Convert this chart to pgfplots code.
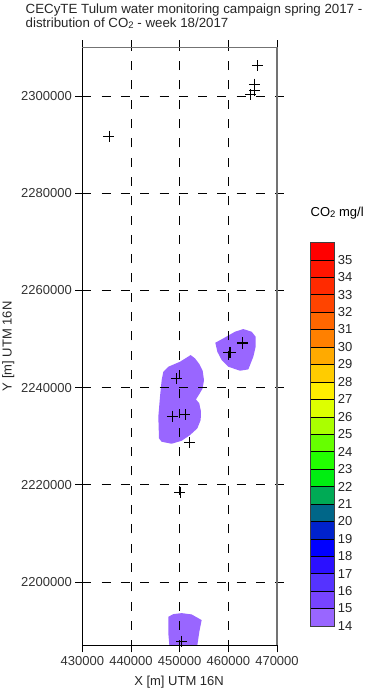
\documentclass[border=0pt]{standalone}
\usepackage{pgfplots}
\pgfplotsset{compat=1.18}
\usepackage{fontspec}
\setmainfont{Liberation Sans}
\newcommand{\subtwo}{\raisebox{-1pt}{\fontsize{9.5}{9.5}\selectfont 2}}
\definecolor{blobc}{HTML}{9966FF}
\begin{document}
\begin{tikzpicture}[x=1pt,y=1pt]
\path[use as bounding box] (0,0) rectangle (369,691);
\begin{axis}[
  at={(82.3pt,45.7pt)}, anchor=south west,
  scale only axis, width=194.7pt, height=597.9pt,
  xmin=430000, xmax=470000, ymin=2187000, ymax=2310000,
  xtick={430000,440000,...,470000}, ytick={2200000,2220000,...,2300000},
  scaled ticks=false,
  tick label style={font=\fontsize{13}{13}\selectfont, text=black!80},
  /pgf/number format/assume math mode=true,
  /pgf/number format/fixed, /pgf/number format/1000 sep={}, /pgf/number format/precision=0,
  tick align=outside, xtick pos=both, ytick pos=both,
  xticklabel pos=lower, yticklabel pos=left,
  major tick length=7pt,
  tick style={black, line width=0.8pt},
  grid=major,
  x grid style={black, line width=0.8pt, dash pattern=on 9pt off 10.3pt, dash phase=3.9pt},
  y grid style={black, line width=0.8pt, dash pattern=on 9pt off 10.3pt},
  axis on top,
  axis line style={line width=0.8pt},
  separate axis lines,
  xticklabel style={yshift=-1pt},
  xlabel={X [m] UTM 16N}, ylabel={Y [m] UTM 16N},
  label style={font=\fontsize{13}{13}\selectfont, text=black!85},
  xlabel style={at={(axis description cs:0.497,0)}, anchor=center, yshift=-36.5pt},
  ylabel style={at={(axis description cs:-0.38,0.5)}, anchor=center},
  clip mode=individual,
]
\addplot[fill=blobc, draw=none] coordinates {
(452263,2246708)(453153,2246023)(454043,2244856)(454729,2243484)(455002,2241564)
(454729,2239850)(454043,2238684)(453358,2237587)(454043,2236764)(454386,2235048)
(454318,2233334)(453632,2231620)(452126,2230247)(450415,2229081)(448360,2228463)
(446306,2228875)(445757,2229562)(445620,2234019)(445963,2238134)(446306,2241564)
(446647,2243278)(447674,2244307)(450071,2245336)} -- cycle;
\addplot[fill=blobc, draw=none] coordinates {
(463082,2252058)(464795,2251509)(465617,2250480)(465617,2248422)(465136,2246365)
(464109,2243760)(462398,2243484)(460000,2244307)(458632,2245679)(457741,2247394)
(457330,2249245)(458973,2250139)(461371,2251509)} -- cycle;
\addplot[fill=blobc, draw=none] coordinates {
(447674,2192867)(448701,2193416)(450415,2193622)(452469,2193349)(454523,2192182)
(454043,2189780)(453632,2187000)(447879,2187000)(447674,2189439)} -- cycle;
\addplot[only marks, mark=+, mark size=5.5pt, mark options={black, line width=0.8pt}] coordinates {
(465951,2306235)(465336,2302469)(465336,2301235)(464596,2300267)(435485,2291770)
(449311,2241832)(448490,2234157)(451099,2234425)(451982,2228663)
(460138,2247181)(460446,2247264)(462870,2249239)(462870,2249139)
(450071,2218519)(450421,2187799)};
\end{axis}
\begin{axis}[
  at={(310pt,65pt)}, anchor=south west,
  scale only axis, width=24.3pt, height=383.7pt,
  xmin=0, xmax=1, ymin=14, ymax=36,
  xtick=\empty, ytick={14,15,...,35},
  ytick pos=right, yticklabel pos=right,
  major tick length=0pt,
  tick label style={font=\fontsize{13}{13}\selectfont, text=black!85},
  yticklabel style={xshift=0pt},
  /pgf/number format/assume math mode=true,
  axis line style={line width=0.8pt, draw=black!75},
  axis on top,
  title style={at={(axis description cs:1.12,1)}, anchor=center, yshift=23.5pt},
  title={\fontsize{13}{13}\selectfont CO\subtwo{} mg/l},
]
\addplot[fill=blobc, draw=black] coordinates {(0,14)(1,14)(1,15)(0,15)} -- cycle;
\addplot[fill={rgb,255:red,119;green,68;blue,255}, draw=black] coordinates {(0,15)(1,15)(1,16)(0,16)} -- cycle;
\addplot[fill={rgb,255:red,85;green,51;blue,255}, draw=black] coordinates {(0,16)(1,16)(1,17)(0,17)} -- cycle;
\addplot[fill={rgb,255:red,43;green,16;blue,255}, draw=black] coordinates {(0,17)(1,17)(1,18)(0,18)} -- cycle;
\addplot[fill={rgb,255:red,0;green,0;blue,255}, draw=black] coordinates {(0,18)(1,18)(1,19)(0,19)} -- cycle;
\addplot[fill={rgb,255:red,0;green,34;blue,204}, draw=black] coordinates {(0,19)(1,19)(1,20)(0,20)} -- cycle;
\addplot[fill={rgb,255:red,0;green,102;blue,136}, draw=black] coordinates {(0,20)(1,20)(1,21)(0,21)} -- cycle;
\addplot[fill={rgb,255:red,0;green,170;blue,85}, draw=black] coordinates {(0,21)(1,21)(1,22)(0,22)} -- cycle;
\addplot[fill={rgb,255:red,0;green,238;blue,17}, draw=black] coordinates {(0,22)(1,22)(1,23)(0,23)} -- cycle;
\addplot[fill={rgb,255:red,34;green,255;blue,0}, draw=black] coordinates {(0,23)(1,23)(1,24)(0,24)} -- cycle;
\addplot[fill={rgb,255:red,102;green,255;blue,0}, draw=black] coordinates {(0,24)(1,24)(1,25)(0,25)} -- cycle;
\addplot[fill={rgb,255:red,170;green,255;blue,0}, draw=black] coordinates {(0,25)(1,25)(1,26)(0,26)} -- cycle;
\addplot[fill={rgb,255:red,221;green,255;blue,0}, draw=black] coordinates {(0,26)(1,26)(1,27)(0,27)} -- cycle;
\addplot[fill={rgb,255:red,255;green,238;blue,0}, draw=black] coordinates {(0,27)(1,27)(1,28)(0,28)} -- cycle;
\addplot[fill={rgb,255:red,255;green,204;blue,0}, draw=black] coordinates {(0,28)(1,28)(1,29)(0,29)} -- cycle;
\addplot[fill={rgb,255:red,255;green,170;blue,0}, draw=black] coordinates {(0,29)(1,29)(1,30)(0,30)} -- cycle;
\addplot[fill={rgb,255:red,255;green,128;blue,0}, draw=black] coordinates {(0,30)(1,30)(1,31)(0,31)} -- cycle;
\addplot[fill={rgb,255:red,255;green,102;blue,0}, draw=black] coordinates {(0,31)(1,31)(1,32)(0,32)} -- cycle;
\addplot[fill={rgb,255:red,255;green,68;blue,0}, draw=black] coordinates {(0,32)(1,32)(1,33)(0,33)} -- cycle;
\addplot[fill={rgb,255:red,255;green,42;blue,0}, draw=black] coordinates {(0,33)(1,33)(1,34)(0,34)} -- cycle;
\addplot[fill={rgb,255:red,255;green,21;blue,0}, draw=black] coordinates {(0,34)(1,34)(1,35)(0,35)} -- cycle;
\addplot[fill={rgb,255:red,255;green,0;blue,0}, draw=black] coordinates {(0,35)(1,35)(1,36)(0,36)} -- cycle;
\end{axis}
\draw[black!55, line width=1.6pt] (82.3,643.6) -- (277,643.6);
\draw[black!55, line width=1.6pt] (277,45.7) -- (277,643.6);
\node[anchor=north west, align=left, inner sep=0pt, font=\fontsize{13.3}{14}\selectfont, text=black!85] at (25.5,687) {CECyTE Tulum water monitoring campaign spring 2017 -\\ distribution of CO\subtwo{} - week 18/2017};
\end{tikzpicture}
\end{document}
